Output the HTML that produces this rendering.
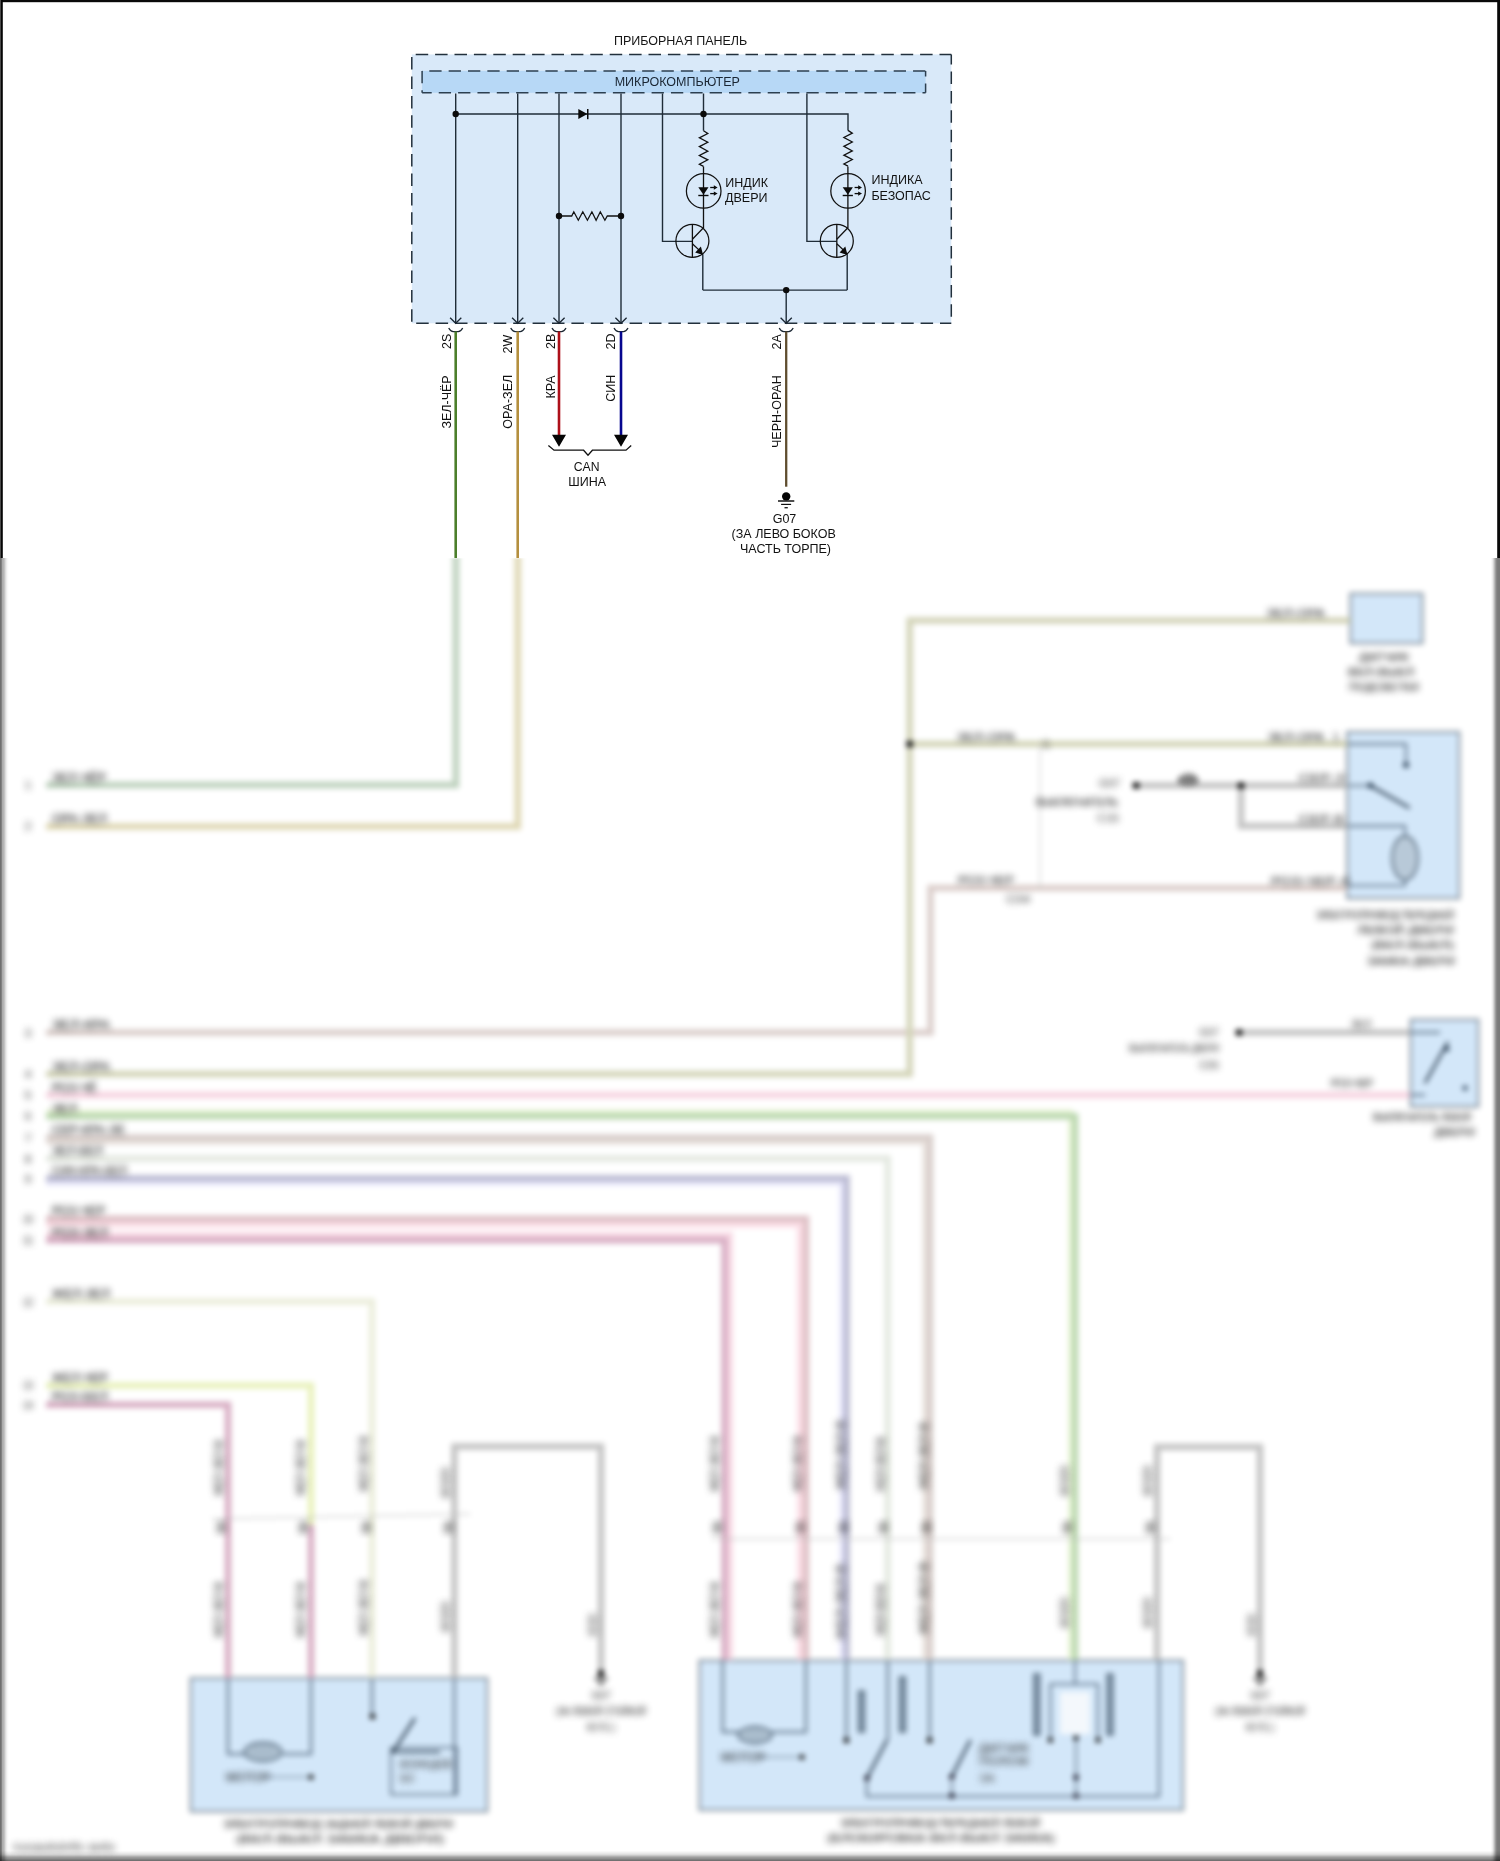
<!DOCTYPE html>
<html><head><meta charset="utf-8"><style>
html,body{margin:0;padding:0;background:#fff;}
body{width:1500px;height:1861px;position:relative;overflow:hidden;font-family:"Liberation Sans",sans-serif;}
svg text{font-family:"Liberation Sans",sans-serif;}
#top{position:absolute;left:0;top:0;width:1500px;height:558px;overflow:hidden;will-change:transform;}
#bot{position:absolute;left:0;top:558px;width:1500px;height:1303px;overflow:hidden;background:#fff;}
.bl{position:absolute;left:0;top:0;width:1500px;height:1303px;}
#ba{filter:blur(2px);}
#bt{filter:blur(3px);}
#edgeL{position:absolute;left:0;top:0;width:9px;height:1303px;background:linear-gradient(to right,rgba(0,0,0,0.569) 0px,rgba(0,0,0,0.561) 1.2px,rgba(0,0,0,0.341) 2.2px,rgba(0,0,0,0.278) 4px,rgba(0,0,0,0.137) 5.5px,rgba(0,0,0,0.035) 7px,rgba(0,0,0,0) 9px);}
#edgeR{position:absolute;right:0;top:0;width:10px;height:1303px;background:linear-gradient(to left,rgba(0,0,0,0.525) 0px,rgba(0,0,0,0.522) 2px,rgba(0,0,0,0.498) 3px,rgba(0,0,0,0.435) 4px,rgba(0,0,0,0.325) 5px,rgba(0,0,0,0.216) 6px,rgba(0,0,0,0.106) 7px,rgba(0,0,0,0.043) 8px,rgba(0,0,0,0) 9.5px);}
#edgeB{position:absolute;left:0;bottom:0;width:1500px;height:11px;background:linear-gradient(to top,rgba(0,0,0,0.569) 0px,rgba(0,0,0,0.545) 1px,rgba(0,0,0,0.451) 2px,rgba(0,0,0,0.412) 3px,rgba(0,0,0,0.357) 4px,rgba(0,0,0,0.263) 5px,rgba(0,0,0,0.169) 6px,rgba(0,0,0,0.106) 7px,rgba(0,0,0,0.075) 8px,rgba(0,0,0,0.035) 9px,rgba(0,0,0,0) 10.5px);}
</style></head><body>
<div id="top"><svg width="1500" height="558" viewBox="0 0 1500 558">
<rect x="0" y="0" width="1500" height="558" fill="#fff"/>
<rect x="411.8" y="54.4" width="539.5" height="268.9" fill="#d9e9f9"/>
<rect x="422.1" y="70.9" width="503.5" height="21.9" fill="#b7d8f6"/>
<g stroke="#22303c" stroke-width="1.5" fill="none"><path d="M411.8,54.4 H951.3" stroke-dasharray="12.5 6.9" stroke-dashoffset="15.5"/><path d="M411.8,54.4 V323.3" stroke-dasharray="12.5 6.9" stroke-dashoffset="16.7"/><path d="M951.3,54.4 V323.3" stroke-dasharray="12.5 6.9" stroke-dashoffset="2.3"/><path d="M411.8,323.3 H951.3" stroke-dasharray="12.5 6.9" stroke-dashoffset="15.0"/></g>
<g stroke="#2c3f50" stroke-width="1.5" fill="none"><path d="M422.1,70.9 H925.6" stroke-dasharray="12.3 7.05" stroke-dashoffset="12.15"/><path d="M925.6,70.9 V92.8" stroke-dasharray="12.3 7.05" stroke-dashoffset="6.7"/><path d="M422.1,92.8 H925.6" stroke-dasharray="12.3 7.05" stroke-dashoffset="2.7"/><path d="M422.1,70.9 V92.8" stroke-dasharray="12.3 7.05" stroke-dashoffset="0"/></g>
<text x="680.6" y="44.6" font-size="12.5" text-anchor="middle" fill="#151515" >ПРИБОРНАЯ ПАНЕЛЬ</text>
<text x="677.3" y="86.0" font-size="12.5" text-anchor="middle" fill="#1a2633" >МИКРОКОМПЬЮТЕР</text>
<g stroke="#1f2c38" stroke-width="1.4" fill="none" stroke-linejoin="miter">
<path d="M455.7,93.5 V323"/>
<path d="M517.7,93.5 V323"/>
<path d="M559.0,93.5 V323"/>
<path d="M621.0,93.5 V323"/>
<path d="M455.7,114 H848 V130.4"/>
<path d="M662.5,93.5 V241.4 H692.5"/>
<path d="M806.9,93.5 V241.4 H836.7"/>
<path d="M703.5,93.5 V130.7"/>
<path d="M559,216 H571.7 L573.8,211.8 L578.3,220.2 L582.8,211.8 L587.4,220.2 L591.9,211.8 L596.1,220.2 L600.3,211.8 L604.9,220.2 L607.3,216 H621" stroke-width="1.3" stroke="#111"/>
<path d="M703.50,130.70 L707.80,133.50 L699.40,137.80 L707.80,142.30 L699.40,146.60 L707.80,151.20 L699.40,155.50 L707.80,159.80 L699.40,164.30 L703.50,166.40" stroke="#111" stroke-width="1.3"/>
<path d="M848.00,130.40 L852.30,133.20 L843.90,137.50 L852.30,142.00 L843.90,146.30 L852.30,150.90 L843.90,155.20 L852.30,159.50 L843.90,164.00 L848.00,166.10" stroke="#111" stroke-width="1.3"/>
<path d="M703.5,166.4 V227.8 L692.4,239.2" stroke="#111" stroke-width="1.3"/>
<circle cx="703.7" cy="190.9" r="17.3" stroke="#111" stroke-width="1.25"/>
<circle cx="692.4" cy="240.9" r="16.5" stroke="#111" stroke-width="1.25"/>
<path d="M692.4,224.4 V257.4" stroke="#111" stroke-width="1.3"/>
<path d="M692.4,243.8 L699.9,250.9" stroke="#111" stroke-width="1.3"/>
<path d="M702.8,254.3 V290.1" stroke-width="1.4"/>
<path d="M847.9,166.4 V227.8 L836.8,239.2" stroke="#111" stroke-width="1.3"/>
<circle cx="848.1" cy="190.9" r="17.3" stroke="#111" stroke-width="1.25"/>
<circle cx="836.8" cy="240.9" r="16.5" stroke="#111" stroke-width="1.25"/>
<path d="M836.8,224.4 V257.4" stroke="#111" stroke-width="1.3"/>
<path d="M836.8,243.8 L844.3,250.9" stroke="#111" stroke-width="1.3"/>
<path d="M847.1999999999999,254.3 V290.1" stroke-width="1.4"/>
<path d="M702.8,290.1 H847.2"/>
<path d="M786.2,290.1 V323"/>
</g>
<g fill="#0b0b0b" stroke="none">
<circle cx="455.7" cy="114" r="3.2"/>
<circle cx="703.5" cy="114" r="3.2"/>
<circle cx="559" cy="216" r="3.2"/>
<circle cx="621" cy="216" r="3.2"/>
<circle cx="786.2" cy="290.1" r="3.2"/>
<path d="M578.3,109.1 L587.4,114 L578.3,119 Z"/>
<rect x="587" y="109" width="1.5" height="10.2"/>
<path d="M698.3,187.3 H708.5 L703.5,194.8 Z"/>
<rect x="698.3" y="194.8" width="10.2" height="1.4"/>
<rect x="710.2" y="186.85" width="4.5" height="1.3"/>
<path d="M713.8,185.3 L717.6,187.5 L713.8,189.7 Z"/>
<rect x="710.2" y="192.95" width="4.5" height="1.3"/>
<path d="M713.8,191.4 L717.6,193.6 L713.8,195.79999999999998 Z"/>
<path d="M703.0999999999999,254.9 L695.2,252.6 L700.9,246.6 Z"/>
<path d="M842.6999999999999,187.3 H852.9 L847.9,194.8 Z"/>
<rect x="842.6999999999999" y="194.8" width="10.2" height="1.4"/>
<rect x="854.6" y="186.85" width="4.5" height="1.3"/>
<path d="M858.1999999999999,185.3 L862.0,187.5 L858.1999999999999,189.7 Z"/>
<rect x="854.6" y="192.95" width="4.5" height="1.3"/>
<path d="M858.1999999999999,191.4 L862.0,193.6 L858.1999999999999,195.79999999999998 Z"/>
<path d="M847.4999999999999,254.9 L839.6,252.6 L845.3,246.6 Z"/>
</g>
<text x="725.3" y="186.7" font-size="12.5" text-anchor="start" fill="#111" >ИНДИК</text>
<text x="725.0" y="201.6" font-size="12.5" text-anchor="start" fill="#111" >ДВЕРИ</text>
<text x="871.6" y="184.4" font-size="12.5" text-anchor="start" fill="#111" >ИНДИКА</text>
<text x="871.4" y="199.5" font-size="12.5" text-anchor="start" fill="#111" >БЕЗОПАС</text>
<g stroke="#1b2733" stroke-width="1.3" fill="none">
<path d="M450.09999999999997,317.8 L455.7,323.3 L461.3,317.8"/>
<path d="M448.7,328 Q450.7,331.6 453.2,331.6 H458.2 Q460.7,331.6 462.7,328"/>
<path d="M512.1,317.8 L517.7,323.3 L523.3000000000001,317.8"/>
<path d="M510.70000000000005,328 Q512.7,331.6 515.2,331.6 H520.2 Q522.7,331.6 524.7,328"/>
<path d="M553.4,317.8 L559.0,323.3 L564.6,317.8"/>
<path d="M552.0,328 Q554.0,331.6 556.5,331.6 H561.5 Q564.0,331.6 566.0,328"/>
<path d="M615.4,317.8 L621.0,323.3 L626.6,317.8"/>
<path d="M614.0,328 Q616.0,331.6 618.5,331.6 H623.5 Q626.0,331.6 628.0,328"/>
<path d="M780.6,317.8 L786.2,323.3 L791.8000000000001,317.8"/>
<path d="M779.2,328 Q781.2,331.6 783.7,331.6 H788.7 Q791.2,331.6 793.2,328"/>
</g>
<path d="M455.7,331.5 V558" stroke="#4c7f2b" stroke-width="2.6" fill="none"/>
<path d="M517.7,331.5 V558" stroke="#b48f3e" stroke-width="2.6" fill="none"/>
<path d="M559.0,331.5 V436" stroke="#ad1019" stroke-width="2.6" fill="none"/>
<path d="M621.0,331.5 V436" stroke="#06068f" stroke-width="2.6" fill="none"/>
<path d="M786.2,331.5 V486.7" stroke="#5f4d2f" stroke-width="2.3" fill="none"/>
<path d="M552,434.8 H566 L559,446.8 Z M614,434.8 H628 L621,446.8 Z" fill="#050505"/>
<path d="M548.4,445.4 L554,450.2 H583.6 L588,455.2 L592.4,450.2 H626 L631.2,445.4" stroke="#111" stroke-width="1.3" fill="none"/>
<text x="586.6" y="470.8" font-size="12.2" text-anchor="middle" fill="#111" >CAN</text>
<text x="587.2" y="486.4" font-size="12.5" text-anchor="middle" fill="#111" >ШИНА</text>
<circle cx="786.2" cy="496.5" r="4.2" fill="#050505"/>
<path d="M778,501 H794.3" stroke="#222" stroke-width="1.6"/>
<path d="M781.1,504.4 H791.1" stroke="#111" stroke-width="1.2"/>
<path d="M784.5,507.7 H787.8" stroke="#222" stroke-width="1.4"/>
<text x="784.5" y="523.0" font-size="12.5" text-anchor="middle" fill="#111" >G07</text>
<text x="783.7" y="538.4" font-size="12.5" text-anchor="middle" fill="#111" >(ЗА ЛЕВО БОКОВ</text>
<text x="785.5" y="553.2" font-size="12.5" text-anchor="middle" fill="#111" >ЧАСТЬ ТОРПЕ)</text>
<text transform="translate(450.8,333.6) rotate(-90)" font-size="12.5" text-anchor="end" fill="#111">2S</text>
<text transform="translate(512.4,334.8) rotate(-90)" font-size="12.5" text-anchor="end" fill="#111">2W</text>
<text transform="translate(555,333.6) rotate(-90)" font-size="12.5" text-anchor="end" fill="#111">2B</text>
<text transform="translate(615.4,333.4) rotate(-90)" font-size="12.5" text-anchor="end" fill="#111">2D</text>
<text transform="translate(780.8,334.2) rotate(-90)" font-size="12.5" text-anchor="end" fill="#111">2A</text>
<text transform="translate(451.2,375.3) rotate(-90)" font-size="12.5" text-anchor="end" fill="#111">ЗЕЛ-ЧЁР</text>
<text transform="translate(512.4,374.8) rotate(-90)" font-size="12.5" text-anchor="end" fill="#111">ОРА-ЗЕЛ</text>
<text transform="translate(555,375.3) rotate(-90)" font-size="12.5" text-anchor="end" fill="#111">КРА</text>
<text transform="translate(615.4,374.8) rotate(-90)" font-size="12.5" text-anchor="end" fill="#111">СИН</text>
<text transform="translate(780.8,375.2) rotate(-90)" font-size="12.5" text-anchor="end" fill="#111">ЧЕРН-ОРАН</text>
<rect x="0" y="0" width="1500" height="2.2" fill="#0a0a0a"/>
<rect x="0" y="0" width="1" height="558" fill="#4a4a4a"/>
<rect x="1" y="0" width="1.8" height="558" fill="#050505"/>
<rect x="1497.2" y="0" width="2.8" height="558" fill="#080808"/>
</svg></div>
<div id="bot">
<svg width="1500" height="1303" viewBox="0 558 1500 1303" style="position:absolute;left:0;top:0">
<defs><filter id="bx" x="0" y="558" width="1500" height="1303" filterUnits="userSpaceOnUse" color-interpolation-filters="sRGB">
<feConvolveMatrix order="7 1" kernelMatrix="1 1 1 1 1 1 1" divisor="7" edgeMode="duplicate" result="a"/>
<feConvolveMatrix in="a" order="1 7" kernelMatrix="1 1 1 1 1 1 1" divisor="7" edgeMode="duplicate" result="b"/>
<feConvolveMatrix in="b" order="5 1" kernelMatrix="1 1 1 1 1" divisor="5" edgeMode="duplicate" result="c"/>
<feConvolveMatrix in="c" order="1 5" kernelMatrix="1 1 1 1 1" divisor="5" edgeMode="duplicate" result="d"/>
<feGaussianBlur in="d" stdDeviation="0.8"/>
</filter>
<filter id="bxt" x="0" y="558" width="1500" height="1303" filterUnits="userSpaceOnUse" color-interpolation-filters="sRGB">
<feConvolveMatrix order="9 1" kernelMatrix="1 1 1 1 1 1 1 1 1" divisor="9" edgeMode="none" preserveAlpha="false" result="a"/>
<feConvolveMatrix in="a" order="1 9" kernelMatrix="1 1 1 1 1 1 1 1 1" divisor="9" edgeMode="none" preserveAlpha="false" result="b"/>
<feConvolveMatrix in="b" order="7 1" kernelMatrix="1 1 1 1 1 1 1" divisor="7" edgeMode="none" preserveAlpha="false" result="c"/>
<feConvolveMatrix in="c" order="1 7" kernelMatrix="1 1 1 1 1 1 1" divisor="7" edgeMode="none" preserveAlpha="false" result="d"/>
<feGaussianBlur in="d" stdDeviation="1.0"/>
</filter></defs>
<g filter="url(#bx)">
<rect x="-20" y="540" width="1540" height="1340" fill="#fff"/>
<rect x="1350.4" y="593.6" width="72.0" height="49.60000000000002" fill="#d3e7f9" stroke="#8e9aa6" stroke-width="2.4"/>
<rect x="1347.2" y="732" width="112.0" height="166.39999999999998" fill="#d3e7f9" stroke="#8e9aa6" stroke-width="2.4"/>
<rect x="1410.7" y="1019.5" width="67.59999999999991" height="87.09999999999991" fill="#d3e7f9" stroke="#8e9aa6" stroke-width="2.4"/>
<rect x="190.7" y="1678.1" width="296.5" height="133.4000000000001" fill="#d3e7f9" stroke="#8e9aa6" stroke-width="2.4"/>
<rect x="699.5" y="1660.4" width="483.5" height="149.5999999999999" fill="#d3e7f9" stroke="#8e9aa6" stroke-width="2.4"/>
<path d="M46,1111.8 H1070.5 V1660" stroke="#eaf5d7" stroke-width="5" fill="none" stroke-linejoin="miter" stroke-linecap="butt"/>
<path d="M46,1142.2 H925 V1660" stroke="#e7e0db" stroke-width="5" fill="none" stroke-linejoin="miter" stroke-linecap="butt"/>
<path d="M46,1183.0 H842 V1660" stroke="#e5e5fb" stroke-width="5" fill="none" stroke-linejoin="miter" stroke-linecap="butt"/>
<path d="M46,1224.5 H800 V1660" stroke="#fbdce5" stroke-width="6" fill="none" stroke-linejoin="miter" stroke-linecap="butt"/>
<path d="M46,1234.8 H730 V1660" stroke="#f8dae5" stroke-width="6" fill="none" stroke-linejoin="miter" stroke-linecap="butt"/>
<path d="M455.9,540 V785 H46" stroke="#bfd2bf" stroke-width="6.5" fill="none" stroke-linejoin="miter" stroke-linecap="butt"/>
<path d="M517.8,540 V826.4 H46" stroke="#dfd8b5" stroke-width="6.5" fill="none" stroke-linejoin="miter" stroke-linecap="butt"/>
<path d="M46,1032.5 H930.5 V888 H1347" stroke="#dccfcc" stroke-width="6.5" fill="none" stroke-linejoin="miter" stroke-linecap="butt"/>
<path d="M46,1074 H909.7 V620.5 H1350" stroke="#d4d5ba" stroke-width="6.5" fill="none" stroke-linejoin="miter" stroke-linecap="butt"/>
<path d="M909.7,744 H1347" stroke="#d4d5ba" stroke-width="6.5" fill="none" stroke-linejoin="miter" stroke-linecap="butt"/>
<path d="M46,1095 H1410" stroke="#f6d4e1" stroke-width="6.5" fill="none" stroke-linejoin="miter" stroke-linecap="butt"/>
<path d="M46,1116.3 H1075 V1660" stroke="#bdd9b2" stroke-width="6.5" fill="none" stroke-linejoin="miter" stroke-linecap="butt"/>
<path d="M46,1137.4 H930 V1660" stroke="#d9cfcc" stroke-width="6.5" fill="none" stroke-linejoin="miter" stroke-linecap="butt"/>
<path d="M46,1158.5 H887.7 V1660" stroke="#e4e9e1" stroke-width="6.5" fill="none" stroke-linejoin="miter" stroke-linecap="butt"/>
<path d="M46,1178.3 H846.6 V1660" stroke="#bdbdd4" stroke-width="6.5" fill="none" stroke-linejoin="miter" stroke-linecap="butt"/>
<path d="M46,1218.7 H806 V1660" stroke="#dfc2c7" stroke-width="6.5" fill="none" stroke-linejoin="miter" stroke-linecap="butt"/>
<path d="M46,1240.3 H724.5 V1660" stroke="#d9b0c5" stroke-width="6.5" fill="none" stroke-linejoin="miter" stroke-linecap="butt"/>
<path d="M46,1301.5 H372 V1678" stroke="#eceedc" stroke-width="6.5" fill="none" stroke-linejoin="miter" stroke-linecap="butt"/>
<path d="M46,1385.5 H311 V1525" stroke="#e9f2bd" stroke-width="6.5" fill="none" stroke-linejoin="miter" stroke-linecap="butt"/>
<path d="M311,1525 V1678" stroke="#d9b0c5" stroke-width="6.5" fill="none" stroke-linejoin="miter" stroke-linecap="butt"/>
<path d="M46,1404.7 H228 V1678" stroke="#d9b0c5" stroke-width="6.5" fill="none" stroke-linejoin="miter" stroke-linecap="butt"/>
<path d="M454.4,1678 V1446.5 H601 V1672" stroke="#c5c5c5" stroke-width="6.5" fill="none" stroke-linejoin="miter" stroke-linecap="butt"/>
<path d="M1157,1660 V1447 H1260 V1672" stroke="#c5c5c5" stroke-width="6.5" fill="none" stroke-linejoin="miter" stroke-linecap="butt"/>
<path d="M1136,785.5 H1347" stroke="#c5c5c5" stroke-width="6.5" fill="none" stroke-linejoin="miter" stroke-linecap="butt"/>
<path d="M1241,785.5 V826 H1347" stroke="#c5c5c5" stroke-width="6.5" fill="none" stroke-linejoin="miter" stroke-linecap="butt"/>
<path d="M1239,1032.5 H1410" stroke="#c5c5c5" stroke-width="6.5" fill="none" stroke-linejoin="miter" stroke-linecap="butt"/>
<path d="M1040,744 V888" stroke="#c8c8c8" stroke-width="1" fill="none" stroke-linejoin="miter" stroke-linecap="butt"/>
<ellipse cx="1188" cy="780.5" rx="11" ry="6" fill="#8a8a8a"/>
<path d="M212,1519 L470,1514" stroke="#b8b8b8" stroke-width="1" fill="none" stroke-linejoin="miter" stroke-linecap="butt"/>
<path d="M712,1539 H1170" stroke="#b8b8b8" stroke-width="1" fill="none" stroke-linejoin="miter" stroke-linecap="butt"/>
<circle cx="909.7" cy="744" r="3.6" fill="#111"/>
<circle cx="1136" cy="785.5" r="3.6" fill="#111"/>
<circle cx="1241" cy="785.5" r="3.6" fill="#111"/>
<circle cx="1239" cy="1032.5" r="3.6" fill="#111"/>
<circle cx="601" cy="1673.5" r="3.4" fill="#111"/>
<path d="M594,1678.5 H608 M596.5,1681.5 H605.5 M599,1684.5 H603" stroke="#222" stroke-width="1.3"/>
<circle cx="1260" cy="1673.5" r="3.4" fill="#111"/>
<path d="M1253,1678.5 H1267 M1255.5,1681.5 H1264.5 M1258,1684.5 H1262" stroke="#222" stroke-width="1.3"/>
<path d="M228,1678 V1754 H245 M311,1678 V1754 H283" stroke="#55697d" stroke-width="2.0" fill="none" stroke-linejoin="miter" stroke-linecap="butt"/>
<ellipse cx="263" cy="1752" rx="19" ry="9.5" fill="#a9bccc" stroke="#3a4e62" stroke-width="1.3"/>
<path d="M266,1777 H310" stroke="#55697d" stroke-width="1.2" fill="none" stroke-linejoin="miter" stroke-linecap="butt"/>
<circle cx="311" cy="1777" r="2.6" fill="#111"/>
<path d="M372,1678 V1716" stroke="#55697d" stroke-width="2.0" fill="none" stroke-linejoin="miter" stroke-linecap="butt"/>
<circle cx="372.5" cy="1716.5" r="2.8" fill="#111"/>
<path d="M393,1752 L415,1718" stroke="#2c3e50" stroke-width="2.5" fill="none" stroke-linejoin="miter" stroke-linecap="butt"/>
<path d="M454.4,1678 V1794" stroke="#55697d" stroke-width="2.0" fill="none" stroke-linejoin="miter" stroke-linecap="butt"/>
<rect x="391" y="1747.5" width="66" height="47" fill="none" stroke="#4a5e72" stroke-width="1.5"/>
<path d="M391,1752 H440" stroke="#2c3e50" stroke-width="2.2" fill="none" stroke-linejoin="miter" stroke-linecap="butt"/>
<path d="M722.7,1660 V1732 H740 M805.9,1660 V1732 H770" stroke="#55697d" stroke-width="2.0" fill="none" stroke-linejoin="miter" stroke-linecap="butt"/>
<ellipse cx="755" cy="1735" rx="17" ry="8.5" fill="#a9bccc" stroke="#3a4e62" stroke-width="1.3"/>
<path d="M760,1757 H800" stroke="#55697d" stroke-width="1.2" fill="none" stroke-linejoin="miter" stroke-linecap="butt"/>
<circle cx="802" cy="1757" r="2.6" fill="#111"/>
<path d="M846.4,1660 V1740 M929.6,1660 V1740 M887.7,1660 V1740" stroke="#55697d" stroke-width="2.0" fill="none" stroke-linejoin="miter" stroke-linecap="butt"/>
<circle cx="846.4" cy="1740.3" r="2.8" fill="#111"/>
<circle cx="929.6" cy="1740.3" r="2.8" fill="#111"/>
<rect x="858.5" y="1691" width="6" height="41" fill="#8096aa" stroke="#2c3e50" stroke-width="1"/>
<rect x="899.5" y="1677" width="6" height="55" fill="#8096aa" stroke="#2c3e50" stroke-width="1"/>
<rect x="1033.8" y="1674" width="6" height="61" fill="#8096aa" stroke="#2c3e50" stroke-width="1"/>
<rect x="1107" y="1674" width="6" height="61" fill="#8096aa" stroke="#2c3e50" stroke-width="1"/>
<path d="M887,1740 L867,1778" stroke="#2c3e50" stroke-width="2.5" fill="none" stroke-linejoin="miter" stroke-linecap="butt"/>
<path d="M970.5,1740 L952,1776" stroke="#2c3e50" stroke-width="2.5" fill="none" stroke-linejoin="miter" stroke-linecap="butt"/>
<path d="M866.8,1778 V1796.4 H1159 V1660" stroke="#55697d" stroke-width="1.8" fill="none" stroke-linejoin="miter" stroke-linecap="butt"/>
<path d="M951.8,1776 V1796 M1076,1738 V1796" stroke="#2c3e50" stroke-width="2" stroke-dasharray="4 3"/>
<circle cx="951.8" cy="1777" r="2.8" fill="#223"/>
<circle cx="951.8" cy="1796" r="2.8" fill="#223"/>
<circle cx="1076" cy="1777" r="2.8" fill="#223"/>
<circle cx="1076" cy="1796" r="2.8" fill="#223"/>
<circle cx="867" cy="1778" r="2.8" fill="#223"/>
<path d="M1075,1660 V1684.2 M1050.4,1740 V1684.2 H1098 V1740" stroke="#55697d" stroke-width="1.8" fill="none" stroke-linejoin="miter" stroke-linecap="butt"/>
<rect x="1060" y="1692" width="30" height="42" fill="#f4f8fc"/>
<circle cx="1050.4" cy="1740" r="2.6" fill="#111"/>
<circle cx="1076" cy="1738" r="2.6" fill="#111"/>
<circle cx="1098" cy="1740" r="2.6" fill="#111"/>
<path d="M1347,744 H1406 V762" stroke="#55697d" stroke-width="1.8" fill="none" stroke-linejoin="miter" stroke-linecap="butt"/>
<circle cx="1406" cy="765" r="3" fill="#34495e"/>
<path d="M1347,785.6 H1370" stroke="#55697d" stroke-width="1.8" fill="none" stroke-linejoin="miter" stroke-linecap="butt"/>
<circle cx="1370.4" cy="785.6" r="3" fill="#34495e"/>
<path d="M1370.4,785.6 L1409.6,808" stroke="#2c3e50" stroke-width="2.5" fill="none" stroke-linejoin="miter" stroke-linecap="butt"/>
<path d="M1347,826 H1405 V835 M1347,885.6 H1405 V880" stroke="#55697d" stroke-width="1.8" fill="none" stroke-linejoin="miter" stroke-linecap="butt"/>
<ellipse cx="1405" cy="858" rx="13" ry="22" fill="#b8c9d8" stroke="#2c3e50" stroke-width="1.3"/>
<path d="M1410,1032.5 H1440 M1410,1095 H1425" stroke="#55697d" stroke-width="1.8" fill="none" stroke-linejoin="miter" stroke-linecap="butt"/>
<path d="M1425,1083 L1448,1042" stroke="#2c3e50" stroke-width="2.5" fill="none" stroke-linejoin="miter" stroke-linecap="butt"/>
<circle cx="1447" cy="1049" r="2.5" fill="#34495e"/>
<circle cx="1465" cy="1088" r="2.5" fill="#34495e"/>
</g>
<g filter="url(#bxt)">
<text x="52" y="781.5" font-size="12" fill="#000" text-anchor="start" textLength="54" lengthAdjust="spacingAndGlyphs">ЗЕЛ-ЧЁР</text>
<text x="28" y="789" font-size="11" fill="#222" text-anchor="middle" textLength="6" lengthAdjust="spacingAndGlyphs">1</text>
<text x="52" y="822.9" font-size="12" fill="#000" text-anchor="start" textLength="55" lengthAdjust="spacingAndGlyphs">ОРА-ЗЕЛ</text>
<text x="28" y="830.4" font-size="11" fill="#222" text-anchor="middle" textLength="6" lengthAdjust="spacingAndGlyphs">2</text>
<text x="52" y="1029.0" font-size="12" fill="#000" text-anchor="start" textLength="58" lengthAdjust="spacingAndGlyphs">ЗЕЛ-КРА</text>
<text x="28" y="1036.5" font-size="11" fill="#222" text-anchor="middle" textLength="6" lengthAdjust="spacingAndGlyphs">3</text>
<text x="52" y="1070.5" font-size="12" fill="#000" text-anchor="start" textLength="58" lengthAdjust="spacingAndGlyphs">ЗЕЛ-ОРА</text>
<text x="28" y="1078" font-size="11" fill="#222" text-anchor="middle" textLength="6" lengthAdjust="spacingAndGlyphs">4</text>
<text x="52" y="1091.5" font-size="12" fill="#000" text-anchor="start" textLength="45" lengthAdjust="spacingAndGlyphs">РОЗ-ЧЁ</text>
<text x="28" y="1099" font-size="11" fill="#222" text-anchor="middle" textLength="6" lengthAdjust="spacingAndGlyphs">5</text>
<text x="52" y="1112.5" font-size="12" fill="#000" text-anchor="start" textLength="25" lengthAdjust="spacingAndGlyphs">ЗЕЛ</text>
<text x="28" y="1120" font-size="11" fill="#222" text-anchor="middle" textLength="6" lengthAdjust="spacingAndGlyphs">6</text>
<text x="52" y="1134.0" font-size="12" fill="#000" text-anchor="start" textLength="73" lengthAdjust="spacingAndGlyphs">СЕР-КРА-ЗЕ</text>
<text x="28" y="1141.5" font-size="11" fill="#222" text-anchor="middle" textLength="6" lengthAdjust="spacingAndGlyphs">7</text>
<text x="52" y="1155.0" font-size="12" fill="#000" text-anchor="start" textLength="51" lengthAdjust="spacingAndGlyphs">ЗЕЛ-БЕЛ</text>
<text x="28" y="1162.5" font-size="11" fill="#222" text-anchor="middle" textLength="6" lengthAdjust="spacingAndGlyphs">8</text>
<text x="52" y="1175.0" font-size="12" fill="#000" text-anchor="start" textLength="75" lengthAdjust="spacingAndGlyphs">СИН-КРА-БЕЛ</text>
<text x="28" y="1182.5" font-size="11" fill="#222" text-anchor="middle" textLength="6" lengthAdjust="spacingAndGlyphs">9</text>
<text x="52" y="1215.2" font-size="12" fill="#000" text-anchor="start" textLength="53" lengthAdjust="spacingAndGlyphs">РОЗ-ЧЕР</text>
<text x="28" y="1222.7" font-size="11" fill="#222" text-anchor="middle" textLength="10" lengthAdjust="spacingAndGlyphs">10</text>
<text x="52" y="1236.5" font-size="12" fill="#000" text-anchor="start" textLength="56" lengthAdjust="spacingAndGlyphs">РОЗ-ЗЕЛ</text>
<text x="28" y="1244" font-size="11" fill="#222" text-anchor="middle" textLength="10" lengthAdjust="spacingAndGlyphs">11</text>
<text x="52" y="1298.0" font-size="12" fill="#000" text-anchor="start" textLength="58" lengthAdjust="spacingAndGlyphs">ЖЕЛ-ЗЕЛ</text>
<text x="28" y="1305.5" font-size="11" fill="#222" text-anchor="middle" textLength="10" lengthAdjust="spacingAndGlyphs">12</text>
<text x="52" y="1381.5" font-size="12" fill="#000" text-anchor="start" textLength="56" lengthAdjust="spacingAndGlyphs">ЖЕЛ-ЧЕР</text>
<text x="28" y="1389" font-size="11" fill="#222" text-anchor="middle" textLength="10" lengthAdjust="spacingAndGlyphs">13</text>
<text x="52" y="1401.0" font-size="12" fill="#000" text-anchor="start" textLength="56" lengthAdjust="spacingAndGlyphs">РОЗ-БЕЛ</text>
<text x="28" y="1408.5" font-size="11" fill="#222" text-anchor="middle" textLength="10" lengthAdjust="spacingAndGlyphs">14</text>
<text x="1266.5" y="617" font-size="11" fill="#000" text-anchor="start" textLength="58" lengthAdjust="spacingAndGlyphs">ЗЕЛ-ОРА</text>
<text x="1384" y="661" font-size="11" fill="#000" text-anchor="middle" textLength="50" lengthAdjust="spacingAndGlyphs">ДАТЧИК</text>
<text x="1381" y="676" font-size="11" fill="#000" text-anchor="middle" textLength="66" lengthAdjust="spacingAndGlyphs">ВКЛ-ВЫКЛ</text>
<text x="1384" y="691" font-size="11" fill="#000" text-anchor="middle" textLength="70" lengthAdjust="spacingAndGlyphs">ПОДСВЕТКИ</text>
<text x="957" y="740.5" font-size="11" fill="#000" text-anchor="start" textLength="58" lengthAdjust="spacingAndGlyphs">ЗЕЛ-ОРА</text>
<text x="1268" y="741" font-size="11" fill="#000" text-anchor="start" textLength="56" lengthAdjust="spacingAndGlyphs">ЗЕЛ-ОРА</text>
<text x="1332" y="741" font-size="11" fill="#333" text-anchor="start" textLength="8" lengthAdjust="spacingAndGlyphs">1</text>
<text x="1299" y="782" font-size="11" fill="#000" text-anchor="start" textLength="46" lengthAdjust="spacingAndGlyphs">СЕР-З</text>
<text x="1299" y="823" font-size="11" fill="#000" text-anchor="start" textLength="46" lengthAdjust="spacingAndGlyphs">СЕР-Б</text>
<text x="1271" y="885" font-size="11" fill="#000" text-anchor="start" textLength="78" lengthAdjust="spacingAndGlyphs">РОЗ-ЧЕР-4</text>
<text x="958" y="883.5" font-size="11" fill="#000" text-anchor="start" textLength="56" lengthAdjust="spacingAndGlyphs">РОЗ-ЧЕР</text>
<text x="1006" y="902.5" font-size="10" fill="#333" text-anchor="start" textLength="24" lengthAdjust="spacingAndGlyphs">C04</text>
<text x="1036" y="805.5" font-size="10.5" fill="#000" text-anchor="start" textLength="82" lengthAdjust="spacingAndGlyphs">ВЫКЛЮЧАТЕЛЬ</text>
<text x="1097" y="822" font-size="10" fill="#333" text-anchor="start" textLength="22" lengthAdjust="spacingAndGlyphs">C15</text>
<text x="1099" y="787" font-size="10" fill="#333" text-anchor="start" textLength="21" lengthAdjust="spacingAndGlyphs">G07</text>
<text x="1181" y="782" font-size="10" fill="#555" text-anchor="start" textLength="14" lengthAdjust="spacingAndGlyphs">3</text>
<text x="1041" y="747.5" font-size="10" fill="#555" text-anchor="start" textLength="10" lengthAdjust="spacingAndGlyphs">1</text>
<text x="1454" y="919" font-size="11" fill="#000" text-anchor="end" textLength="138" lengthAdjust="spacingAndGlyphs">ЭЛЕКТРОПРИВОД ПЕРЕДНЕЙ</text>
<text x="1454" y="934" font-size="11" fill="#000" text-anchor="end" textLength="97" lengthAdjust="spacingAndGlyphs">ЛЕВОЙ ДВЕРИ</text>
<text x="1454" y="949" font-size="11" fill="#000" text-anchor="end" textLength="83" lengthAdjust="spacingAndGlyphs">(ВКЛ-ВЫКЛ)</text>
<text x="1455" y="965" font-size="11" fill="#000" text-anchor="end" textLength="88" lengthAdjust="spacingAndGlyphs">ЗАМКА ДВЕРИ</text>
<text x="1351" y="1028" font-size="10.5" fill="#222" text-anchor="start" textLength="20" lengthAdjust="spacingAndGlyphs">ЗЕЛ</text>
<text x="1331" y="1086.5" font-size="10.5" fill="#000" text-anchor="start" textLength="42" lengthAdjust="spacingAndGlyphs">РОЗ-ЧЕР</text>
<text x="1199" y="1036" font-size="10" fill="#333" text-anchor="start" textLength="20" lengthAdjust="spacingAndGlyphs">G07</text>
<text x="1129" y="1052" font-size="10.5" fill="#222" text-anchor="start" textLength="90" lengthAdjust="spacingAndGlyphs">ВЫКЛЮЧАТЕЛЬ ДВЕРИ</text>
<text x="1199" y="1069" font-size="10" fill="#333" text-anchor="start" textLength="20" lengthAdjust="spacingAndGlyphs">C05</text>
<text x="1373" y="1120.5" font-size="11" fill="#000" text-anchor="start" textLength="98" lengthAdjust="spacingAndGlyphs">ВЫКЛЮЧАТЕЛЬ ЛЕВОЙ</text>
<text x="1434" y="1136" font-size="11" fill="#000" text-anchor="start" textLength="41" lengthAdjust="spacingAndGlyphs">ДВЕРИ</text>
<text transform="translate(223.2,1496) rotate(-90)" font-size="13.5" fill="#222" text-anchor="start" textLength="56" lengthAdjust="spacingAndGlyphs">ЖЕЛ-ЗЕЛ-В</text>
<text transform="translate(223.2,1638) rotate(-90)" font-size="13.5" fill="#222" text-anchor="start" textLength="56" lengthAdjust="spacingAndGlyphs">ЖЕЛ-ЗЕЛ-В</text>
<text transform="translate(305.2,1496) rotate(-90)" font-size="13.5" fill="#222" text-anchor="start" textLength="56" lengthAdjust="spacingAndGlyphs">ЖЕЛ-ЗЕЛ-В</text>
<text transform="translate(305.2,1638) rotate(-90)" font-size="13.5" fill="#222" text-anchor="start" textLength="56" lengthAdjust="spacingAndGlyphs">ЖЕЛ-ЗЕЛ-В</text>
<text transform="translate(368.2,1492) rotate(-90)" font-size="13.5" fill="#222" text-anchor="start" textLength="56" lengthAdjust="spacingAndGlyphs">ЖЕЛ-ЗЕЛ-В</text>
<text transform="translate(368.2,1636) rotate(-90)" font-size="13.5" fill="#222" text-anchor="start" textLength="56" lengthAdjust="spacingAndGlyphs">ЖЕЛ-ЗЕЛ-В</text>
<text transform="translate(450.2,1498) rotate(-90)" font-size="13.5" fill="#222" text-anchor="start" textLength="30" lengthAdjust="spacingAndGlyphs">ЖЕЛ-ЗЕЛ-В</text>
<text transform="translate(450.2,1632) rotate(-90)" font-size="13.5" fill="#222" text-anchor="start" textLength="30" lengthAdjust="spacingAndGlyphs">ЖЕЛ-ЗЕЛ-В</text>
<text transform="translate(597.2,1636) rotate(-90)" font-size="13.5" fill="#222" text-anchor="start" textLength="22" lengthAdjust="spacingAndGlyphs">ЖЕЛ-ЗЕЛ-В</text>
<text transform="translate(719.2,1492) rotate(-90)" font-size="13.5" fill="#222" text-anchor="start" textLength="56" lengthAdjust="spacingAndGlyphs">ЖЕЛ-ЗЕЛ-В</text>
<text transform="translate(719.2,1638) rotate(-90)" font-size="13.5" fill="#222" text-anchor="start" textLength="56" lengthAdjust="spacingAndGlyphs">ЖЕЛ-ЗЕЛ-В</text>
<text transform="translate(802.2,1492) rotate(-90)" font-size="13.5" fill="#222" text-anchor="start" textLength="56" lengthAdjust="spacingAndGlyphs">ЖЕЛ-ЗЕЛ-В</text>
<text transform="translate(802.2,1638) rotate(-90)" font-size="13.5" fill="#222" text-anchor="start" textLength="56" lengthAdjust="spacingAndGlyphs">ЖЕЛ-ЗЕЛ-В</text>
<text transform="translate(845.2,1490) rotate(-90)" font-size="13.5" fill="#222" text-anchor="start" textLength="70" lengthAdjust="spacingAndGlyphs">ЖЕЛ-ЗЕЛ-В</text>
<text transform="translate(845.2,1640) rotate(-90)" font-size="13.5" fill="#222" text-anchor="start" textLength="76" lengthAdjust="spacingAndGlyphs">ЖЕЛ-ЗЕЛ-В</text>
<text transform="translate(885.2,1492) rotate(-90)" font-size="13.5" fill="#222" text-anchor="start" textLength="55" lengthAdjust="spacingAndGlyphs">ЖЕЛ-ЗЕЛ-В</text>
<text transform="translate(885.2,1636) rotate(-90)" font-size="13.5" fill="#222" text-anchor="start" textLength="52" lengthAdjust="spacingAndGlyphs">ЖЕЛ-ЗЕЛ-В</text>
<text transform="translate(928.2,1490) rotate(-90)" font-size="13.5" fill="#222" text-anchor="start" textLength="68" lengthAdjust="spacingAndGlyphs">ЖЕЛ-ЗЕЛ-В</text>
<text transform="translate(928.2,1635) rotate(-90)" font-size="13.5" fill="#222" text-anchor="start" textLength="73" lengthAdjust="spacingAndGlyphs">ЖЕЛ-ЗЕЛ-В</text>
<text transform="translate(1069.2,1496) rotate(-90)" font-size="13.5" fill="#222" text-anchor="start" textLength="30" lengthAdjust="spacingAndGlyphs">ЖЕЛ-ЗЕЛ-В</text>
<text transform="translate(1069.2,1628) rotate(-90)" font-size="13.5" fill="#222" text-anchor="start" textLength="30" lengthAdjust="spacingAndGlyphs">ЖЕЛ-ЗЕЛ-В</text>
<text transform="translate(1152.2,1496) rotate(-90)" font-size="13.5" fill="#222" text-anchor="start" textLength="30" lengthAdjust="spacingAndGlyphs">ЖЕЛ-ЗЕЛ-В</text>
<text transform="translate(1152.2,1628) rotate(-90)" font-size="13.5" fill="#222" text-anchor="start" textLength="30" lengthAdjust="spacingAndGlyphs">ЖЕЛ-ЗЕЛ-В</text>
<text transform="translate(1256.2,1636) rotate(-90)" font-size="13.5" fill="#222" text-anchor="start" textLength="22" lengthAdjust="spacingAndGlyphs">ЖЕЛ-ЗЕЛ-В</text>
<text transform="translate(225,1534) rotate(-90)" font-size="10" fill="#111" text-anchor="start" textLength="13" lengthAdjust="spacingAndGlyphs" font-weight="bold">11</text>
<text transform="translate(307,1534) rotate(-90)" font-size="10" fill="#111" text-anchor="start" textLength="13" lengthAdjust="spacingAndGlyphs" font-weight="bold">11</text>
<text transform="translate(370,1534) rotate(-90)" font-size="10" fill="#111" text-anchor="start" textLength="13" lengthAdjust="spacingAndGlyphs" font-weight="bold">11</text>
<text transform="translate(452,1534) rotate(-90)" font-size="10" fill="#111" text-anchor="start" textLength="13" lengthAdjust="spacingAndGlyphs" font-weight="bold">11</text>
<text transform="translate(721,1534) rotate(-90)" font-size="10" fill="#111" text-anchor="start" textLength="13" lengthAdjust="spacingAndGlyphs" font-weight="bold">11</text>
<text transform="translate(804,1534) rotate(-90)" font-size="10" fill="#111" text-anchor="start" textLength="13" lengthAdjust="spacingAndGlyphs" font-weight="bold">11</text>
<text transform="translate(847,1534) rotate(-90)" font-size="10" fill="#111" text-anchor="start" textLength="13" lengthAdjust="spacingAndGlyphs" font-weight="bold">11</text>
<text transform="translate(887,1534) rotate(-90)" font-size="10" fill="#111" text-anchor="start" textLength="13" lengthAdjust="spacingAndGlyphs" font-weight="bold">11</text>
<text transform="translate(930,1534) rotate(-90)" font-size="10" fill="#111" text-anchor="start" textLength="13" lengthAdjust="spacingAndGlyphs" font-weight="bold">11</text>
<text transform="translate(1071,1534) rotate(-90)" font-size="10" fill="#111" text-anchor="start" textLength="13" lengthAdjust="spacingAndGlyphs" font-weight="bold">11</text>
<text transform="translate(1154,1534) rotate(-90)" font-size="10" fill="#111" text-anchor="start" textLength="13" lengthAdjust="spacingAndGlyphs" font-weight="bold">11</text>
<text x="601" y="1699" font-size="10" fill="#222" text-anchor="middle" textLength="19" lengthAdjust="spacingAndGlyphs">G07</text>
<text x="601" y="1714.5" font-size="11" fill="#111" text-anchor="middle" textLength="90" lengthAdjust="spacingAndGlyphs">(ЗА ЛЕВОЙ СТОЙКОЙ</text>
<text x="601" y="1731" font-size="10.5" fill="#222" text-anchor="middle" textLength="28" lengthAdjust="spacingAndGlyphs">КУЗ.)</text>
<text x="1260" y="1699" font-size="10" fill="#222" text-anchor="middle" textLength="19" lengthAdjust="spacingAndGlyphs">G07</text>
<text x="1260" y="1714.5" font-size="11" fill="#111" text-anchor="middle" textLength="90" lengthAdjust="spacingAndGlyphs">(ЗА ЛЕВОЙ СТОЙКОЙ</text>
<text x="1260" y="1731" font-size="10.5" fill="#222" text-anchor="middle" textLength="28" lengthAdjust="spacingAndGlyphs">КУЗ.)</text>
<text x="226" y="1781" font-size="10.5" fill="#000" text-anchor="start" textLength="44" lengthAdjust="spacingAndGlyphs">МОТОР</text>
<text x="400" y="1768" font-size="10" fill="#222" text-anchor="start" textLength="52" lengthAdjust="spacingAndGlyphs">КОНЦЕВ</text>
<text x="400" y="1782" font-size="10" fill="#444" text-anchor="start" textLength="14" lengthAdjust="spacingAndGlyphs">ВЫК</text>
<text x="338" y="1828" font-size="11.5" fill="#000" text-anchor="middle" textLength="230" lengthAdjust="spacingAndGlyphs">ЭЛЕКТРОПРИВОД ЗАДНЕЙ ЛЕВОЙ ДВЕРИ</text>
<text x="340" y="1842.5" font-size="11.5" fill="#000" text-anchor="middle" textLength="208" lengthAdjust="spacingAndGlyphs">(ВКЛ-ВЫКЛ ЗАМКА ДВЕРИ)</text>
<text x="721" y="1761" font-size="10.5" fill="#000" text-anchor="start" textLength="44" lengthAdjust="spacingAndGlyphs">МОТОР</text>
<text x="979" y="1752" font-size="10" fill="#222" text-anchor="start" textLength="50" lengthAdjust="spacingAndGlyphs">ДАТЧИК</text>
<text x="979" y="1765" font-size="10" fill="#222" text-anchor="start" textLength="50" lengthAdjust="spacingAndGlyphs">ПОЛОЖ</text>
<text x="979" y="1782" font-size="10" fill="#444" text-anchor="start" textLength="16" lengthAdjust="spacingAndGlyphs">ЗА</text>
<text x="940" y="1827" font-size="11.5" fill="#000" text-anchor="middle" textLength="200" lengthAdjust="spacingAndGlyphs">ЭЛЕКТРОПРИВОД ПЕРЕДНЕЙ ЛЕВОЙ</text>
<text x="941" y="1842" font-size="11.5" fill="#000" text-anchor="middle" textLength="228" lengthAdjust="spacingAndGlyphs">(БЛОКИРОВКА ВКЛ-ВЫКЛ ЗАМКА)</text>
<text x="13" y="1851" font-size="12" fill="#444" text-anchor="start" textLength="102" lengthAdjust="spacingAndGlyphs">rusautoinfo  avto</text>
</g>
</svg>
<div id="edgeB"></div><div id="edgeL"></div><div id="edgeR"></div>
</div>
</body></html>
